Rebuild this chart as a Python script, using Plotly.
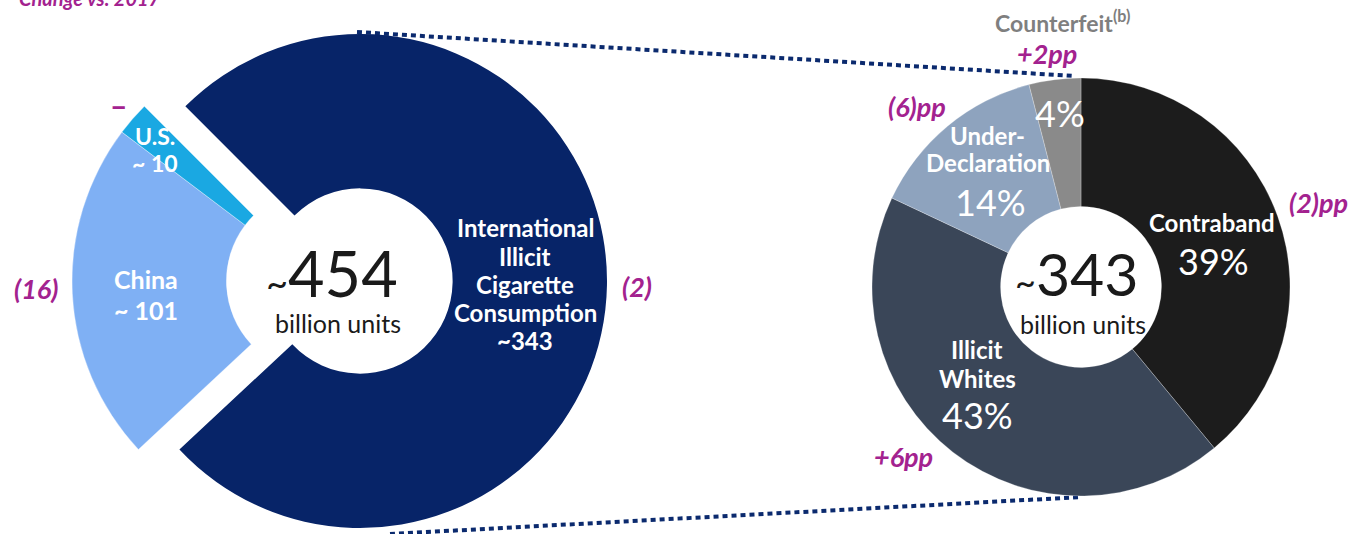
import plotly.graph_objects as go

# ---------------- data ----------------
left_labels = ["International Illicit Cigarette Consumption", "China", "U.S."]
left_values = [343, 101, 10]
left_colors = ["#072468", "#7fb0f4", "#1aa8e2"]
left_total = "454"
left_changes = ["(2)", "(16)", "–"]

right_labels = ["Contraband", "Illicit Whites", "Under-Declaration", "Counterfeit"]
right_values = [39, 43, 14, 4]
right_colors = ["#1c1c1c", "#3a4658", "#8ea3be", "#8a8a8a"]
right_changes = ["(2)pp", "+6pp", "(6)pp", "+2pp"]
right_total = "343"

unit_text = "billion units"
subtitle = "Change vs. 2017"

# ---------------- layout helpers ----------------
W, H = 1352, 534
FONT = "Lato, 'Open Sans', sans-serif"
MAGENTA = "#a3228f"
WHITE = "#ffffff"
TRANSP = "rgba(0,0,0,0)"


def px(x):
    return x / W


def py(y):
    return 1 - y / H


def domain(cx, cy, r):
    return dict(x=[px(cx - r), px(cx + r)], y=[py(cy + r), py(cy - r)])


fig = go.Figure()

# Left donut: International slice (pulled right) and China/U.S. slices
L_R = 247
L_HOLE = 0.375
fig.add_trace(go.Pie(
    labels=left_labels, values=left_values, sort=False, direction="clockwise",
    rotation=-45, hole=L_HOLE, textinfo="none",
    marker=dict(colors=[left_colors[0], TRANSP, TRANSP], line=dict(width=0)),
    domain=domain(360, 281, L_R), showlegend=False, hoverinfo="label+value",
))
fig.add_trace(go.Pie(
    labels=left_labels, values=left_values, sort=False, direction="clockwise",
    rotation=-45, hole=L_HOLE, textinfo="none",
    marker=dict(colors=[TRANSP, left_colors[1], left_colors[2]],
                line=dict(color=[TRANSP, "rgba(255,255,255,0.35)", "rgba(255,255,255,0.35)"],
                          width=[0, 1, 1])),
    domain=domain(319, 281, L_R), showlegend=False, hoverinfo="label+value",
))

# Right donut
R_R = 209
fig.add_trace(go.Pie(
    labels=right_labels, values=right_values, sort=False, direction="clockwise",
    rotation=0, hole=0.385, textinfo="none",
    marker=dict(colors=right_colors, line=dict(color="rgba(255,255,255,0.25)", width=1)),
    domain=domain(1081, 287, R_R), showlegend=False, hoverinfo="label+percent",
))

ann = []


def add(text, x, y, size, color=WHITE, weight="bold", style="normal", xanchor="center"):
    ann.append(dict(text=text, x=px(x), y=py(y), xref="paper", yref="paper",
                    xanchor=xanchor, yanchor="middle", showarrow=False,
                    font=dict(family=FONT, size=size, color=color, weight=weight, style=style)))


def add_lines(lines, x, y0, step, size, color=WHITE, weight="bold"):
    for i, t in enumerate(lines):
        add(t, x, y0 + i * step, size, color, weight)


# subtitle (cut at top, as in the source slide)
add(subtitle, 17, -2, 20, MAGENTA, "bold", "italic", xanchor="left")

# left donut labels
add_lines(["International", "Illicit", "Cigarette", "Consumption", "~" + str(left_values[0])],
          525, 228, 28, 24)
add_lines([left_labels[1], "~ " + str(left_values[1])], 146, 279, 31, 25)
add_lines([left_labels[2], "~ " + str(left_values[2])], 155, 136, 27, 23)
add("<span style='font-size:38px'>~</span>" + left_total, 332, 272, 63, "#1a1a1a", "normal")
add(unit_text, 338, 323, 25, "#1a1a1a", "normal")

add(left_changes[0], 637, 286, 27, MAGENTA, "bold", "italic")
add(left_changes[1], 36, 288, 27, MAGENTA, "bold", "italic")
add(left_changes[2], 118, 105, 30, MAGENTA, "bold", "normal")

# right donut labels
add("<span style='font-size:36px'>~</span>" + right_total, 1077, 273, 59, "#1a1a1a", "normal")
add(unit_text, 1083, 324, 25, "#1a1a1a", "normal")

add(right_labels[0], 1212, 222, 24)
add(f"{right_values[0]}%", 1213, 261, 36, WHITE, "normal")
add_lines(["Illicit", "Whites"], 977, 349, 29, 24)
add(f"{right_values[1]}%", 977, 415, 36, WHITE, "normal")
add_lines(["Under-", "Declaration"], 988, 135, 27, 24)
add(f"{right_values[2]}%", 990, 202, 36, WHITE, "normal")
add(f"{right_values[3]}%", 1060, 113, 36, WHITE, "normal")
add(right_labels[3] + "<sup>(b)</sup>", 1062, 22, 23, "#7f7f7f", "bold")

add(right_changes[0], 1318, 203, 27, MAGENTA, "bold", "italic")
add(right_changes[1], 903, 456, 27, MAGENTA, "bold", "italic")
add(right_changes[2], 917, 106, 27, MAGENTA, "bold", "italic")
add(right_changes[3], 1047, 53, 27, MAGENTA, "bold", "italic")

# dotted connector lines (zoom from left donut to right donut)
line_style = dict(color="#0b2a6e", width=4, dash="5px,4px")
shapes = [
    dict(type="line", xref="paper", yref="paper", x0=px(357), y0=py(32), x1=px(1074), y1=py(76),
         line=line_style, layer="below"),
    dict(type="line", xref="paper", yref="paper", x0=px(390), y0=py(534), x1=px(1082), y1=py(497),
         line=line_style, layer="below"),
]

fig.update_layout(
    width=W, height=H, margin=dict(l=0, r=0, t=0, b=0),
    paper_bgcolor="white", plot_bgcolor="white",
    annotations=ann, shapes=shapes, showlegend=False,
)

fig.write_html("out.html", config={"displayModeBar": False},
               post_script="document.body.style.margin='0';")
